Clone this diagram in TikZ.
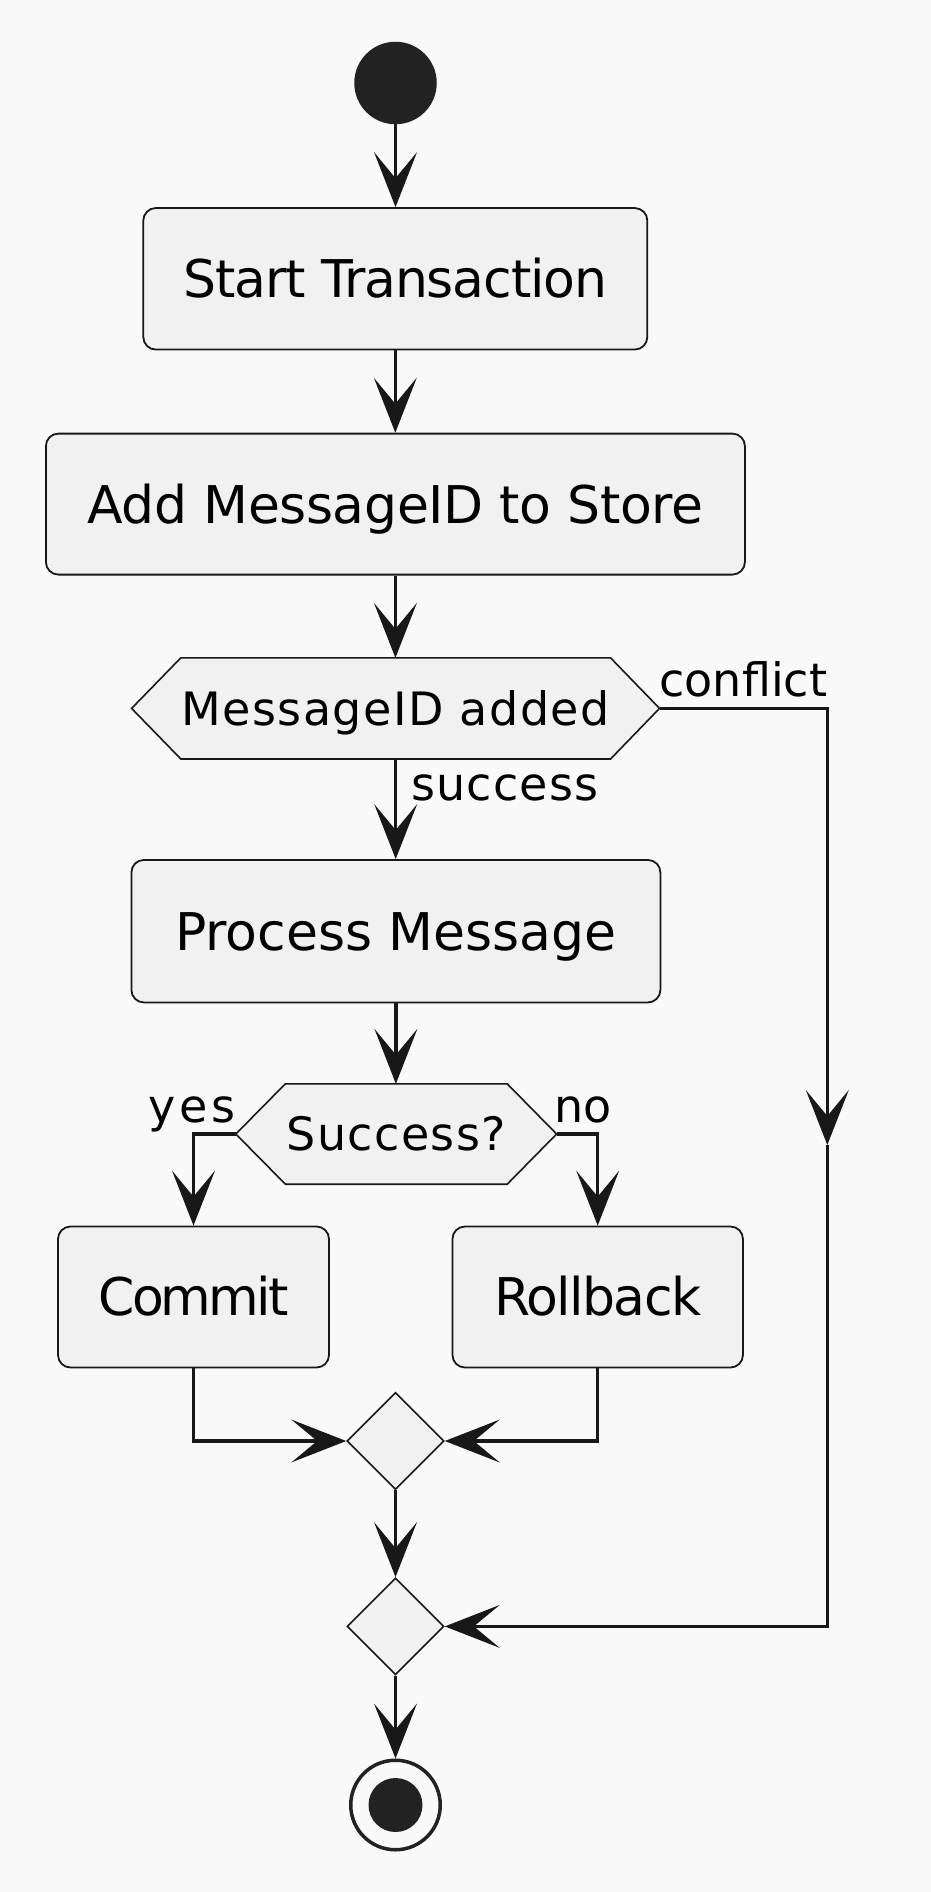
\documentclass[tikz,border=0pt]{standalone}
\usepackage{fontspec}
\setmainfont{DejaVu Sans}
\usetikzlibrary{arrows.meta,calc,shapes.geometric}
\definecolor{bgc}{HTML}{F9F9F9}
\definecolor{boxfill}{HTML}{F1F1F1}
\definecolor{ink}{HTML}{181818}
\definecolor{dot}{HTML}{222222}
\pgfdeclarelayer{bottom}
\pgfdeclarelayer{background}
\pgfsetlayers{bottom,background,main}
\tikzset{
  actbox/.style={draw=ink, line width=1.8pt, fill=boxfill, rounded corners=12.5pt, inner sep=0pt,
    font=\fontsize{52}{60}\selectfont, text height=37.9pt, text depth=0pt},
  hexinner/.style={inner sep=0pt, font=\fontsize{46}{54}\selectfont, text height=33.5pt, text depth=0pt},
  hexline/.style={draw=ink, line width=1.6pt, fill=boxfill, line join=miter},
  merge/.style={diamond, draw=ink, line width=1.6pt, fill=boxfill, inner sep=0pt,
    minimum width=97pt, minimum height=97pt},
  lbl/.style={inner sep=0pt, anchor=base west, font=\fontsize{46}{54}\selectfont},
  spaced/.style={execute at begin node={\addfontfeature{LetterSpace=#1}}},
  flow/.style={draw=ink, line width=3.3pt, line join=miter,
    -{Stealth[length=55pt,width=43pt,inset=26pt,line width=0pt]}},
}
\begin{document}
\begin{tikzpicture}[x=1pt,y=-1pt]
\useasboundingbox (0,0) rectangle (931,1892);
\begin{pgfonlayer}{bottom}
  \fill[bgc] (0,0) rectangle (931,1892);
\end{pgfonlayer}

% nodes
\node[circle, fill=dot, minimum size=82.5pt, inner sep=0pt] (start) at (395.5,83) {};
\node[actbox, spaced=-2.2, minimum width=504pt, minimum height=141.5pt] (st) at (395.3,278.8) {Start Transaction};
\node[actbox, spaced=-0.8, minimum width=699pt, minimum height=141pt] (add) at (395.4,504.1) {Add MessageID to Store};
\node[hexinner, spaced=3.2, minimum width=429.4pt, minimum height=100.7pt] (d1) at (395.7,708.4) {MessageID added};
\node[actbox, minimum width=529pt, minimum height=142.5pt] (pm) at (395.9,931.2) {Process Message};
\node[hexinner, spaced=3, minimum width=221.4pt, minimum height=100pt] (d2) at (396.3,1134) {Success?};
\node[actbox, spaced=-5.6, minimum width=271pt, minimum height=141pt] (cm) at (193.5,1297) {Commit};
\node[actbox, spaced=-3, minimum width=290.5pt, minimum height=141pt] (rb) at (597.7,1297) {Rollback};
\node[merge] (m1) at (395.5,1441) {};
\node[merge] (m2) at (395.5,1626.4) {};
\node[circle, draw=dot, line width=3.5pt, fill=bgc, minimum size=89.5pt, inner sep=0pt] (end) at (395.5,1805) {};
\node[circle, fill=dot, minimum size=54pt, inner sep=0pt] (endcore) at (end.center) {};

% hexagon outlines
\coordinate (d1l) at ($(d1.west)+(-49.2,0)$);
\coordinate (d1r) at ($(d1.east)+(48.9,0)$);
\coordinate (d2l) at ($(d2.west)+(-49.6,0)$);
\coordinate (d2r) at ($(d2.east)+(49.4,0)$);
\begin{pgfonlayer}{background}
  \draw[hexline] (d1l) -- (d1.north west) -- (d1.north east) -- (d1r) -- (d1.south east) -- (d1.south west) -- cycle;
  \draw[hexline] (d2l) -- (d2.north west) -- (d2.north east) -- (d2r) -- (d2.south east) -- (d2.south west) -- cycle;
\end{pgfonlayer}

% labels
\node[lbl] (lconf) at (659.2,696.7) {conflict};
\node[lbl, spaced=2.6] (lsucc) at (410.8,800.7) {success};
\node[lbl, spaced=7.5] (lyes) at (148.6,1122) {yes};
\node[lbl] (lno) at (554,1122) {no};

% connectors
\coordinate (cmid) at (827.3,1145);
\draw[flow] (start.south) -- (start.south |- st.north);
\draw[flow] (st.south) -- (st.south |- add.north);
\draw[flow] (add.south) -- (add.south |- d1.north);
\draw[flow] (d1.south) -- (d1.south |- pm.north);
\draw[flow] (pm.south) -- (pm.south |- d2.north);
\draw[flow] (d2l) -| (cm.north);
\draw[flow] (d2r) -| (rb.north);
\draw[flow] (cm.south) |- (m1.west);
\draw[flow] (rb.south) |- (m1.east);
\draw[flow] (m1.south) -- (m2.north);
\draw[flow] (m2.south) -- (end.north);
\draw[flow] (d1r) -| (cmid);
\draw[flow] (cmid) |- (m2.east);
\end{tikzpicture}
\end{document}
